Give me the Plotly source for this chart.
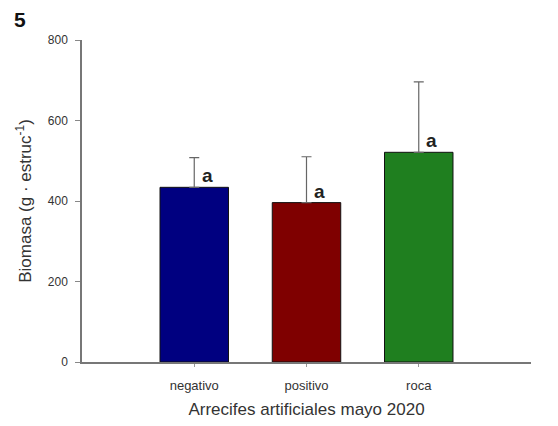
import plotly.graph_objects as go

categories = ["negativo", "positivo", "roca"]
biomasa = [434, 396, 521]
error_sup = [74, 114, 175]
letras = ["a", "a", "a"]
colores = ["#000080", "#7f0000", "#1f7f1f"]
y_ticks = [0, 200, 400, 600, 800]

x_pos = list(range(len(categories)))

fig = go.Figure()
fig.add_trace(go.Bar(
    x=x_pos, y=biomasa, width=0.61,
    marker=dict(color=colores, line=dict(color="#111111", width=1)),
    error_y=dict(type="data", array=error_sup, symmetric=False,
                 arrayminus=[0] * len(biomasa),
                 color="#666666", thickness=1.2, width=5),
    showlegend=False,
))

for xi, v, l in zip(x_pos, biomasa, letras):
    fig.add_annotation(x=xi, y=v, text="<b>" + l + "</b>", showarrow=False, xshift=13,
                       yanchor="bottom", yshift=-1,
                       font=dict(family="Liberation Sans, Arial", size=19, color="#222222"))

fig.add_annotation(xref="paper", yref="paper", x=-0.138, y=1.065,
                   xanchor="center", yanchor="middle", text="<b>5</b>", showarrow=False,
                   font=dict(family="Liberation Sans, Arial", size=21, color="#111111"))

fig.update_layout(
    width=558, height=426,
    margin=dict(l=74, r=35, t=32, b=72),
    paper_bgcolor="white", plot_bgcolor="white",
    font=dict(family="Liberation Sans, Arial", color="#333333"),
    bargap=0.4,
)
fig.update_xaxes(
    range=[-1, 3], tickvals=x_pos, ticktext=categories,
    showline=True, linecolor="#777777", linewidth=1.5,
    ticks="outside", ticklen=3, tickcolor="#999999",
    ticklabelstandoff=8,
    showgrid=False, zeroline=False,
    tickfont=dict(size=13, color="#333333"),
    title=dict(text="Arrecifes artificiales mayo 2020", font=dict(size=17, color="#333333"), standoff=11),
)
fig.update_yaxes(
    range=[0, 800], tickvals=y_ticks,
    showline=True, linecolor="#777777", linewidth=1.5,
    ticks="outside", ticklen=5, tickcolor="#888888",
    ticklabelstandoff=5,
    showgrid=False, zeroline=False,
    tickfont=dict(size=12, color="#333333"),
    title=dict(text="Biomasa (g · estruc<sup>-1</sup>)", font=dict(size=17, color="#333333"), standoff=12),
)

fig.write_html("out.html")
